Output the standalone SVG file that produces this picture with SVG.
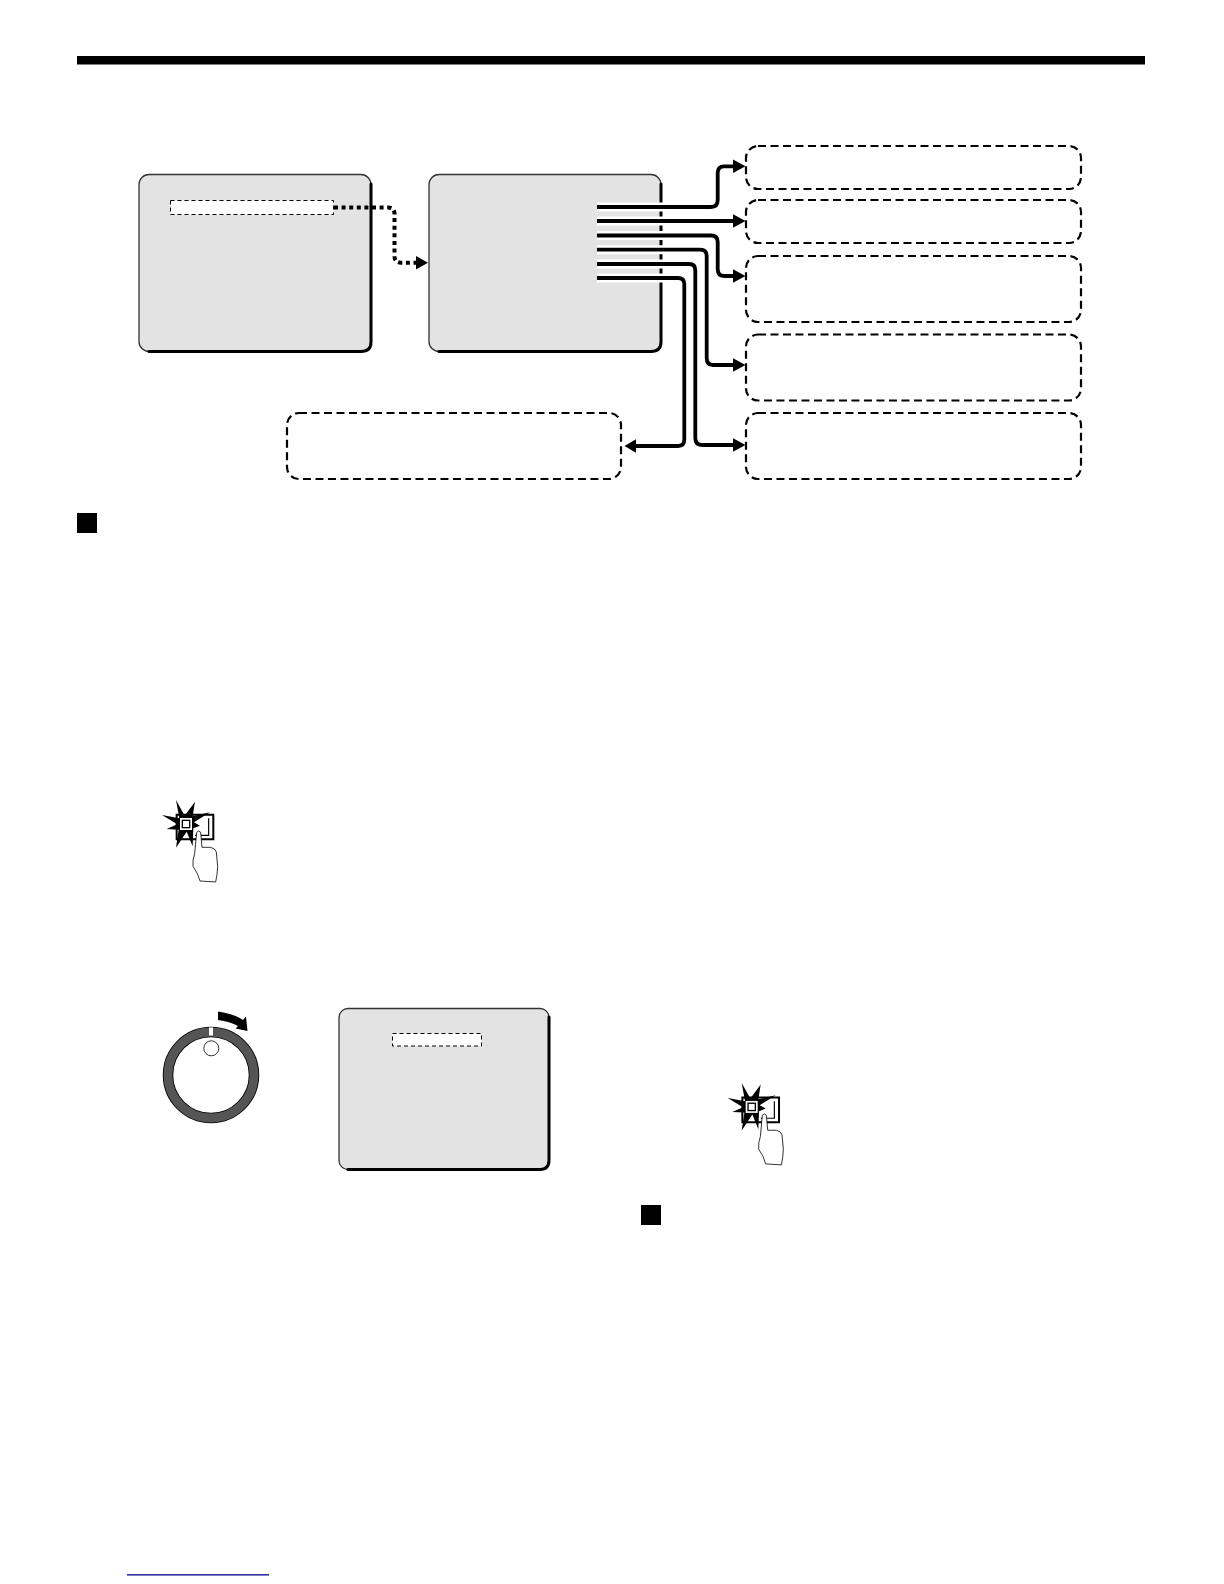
<svg xmlns="http://www.w3.org/2000/svg" xmlns:xlink="http://www.w3.org/1999/xlink" width="1224" height="1584" viewBox="0 0 1224 1584">
<style>
.screen{fill:#e3e3e3;stroke:#333;stroke-width:1.3}
.edge{fill:none;stroke:#000;stroke-width:3;stroke-linecap:round}
.hl{fill:#fff;stroke:#000;stroke-width:1;stroke-dasharray:4 3}
.box{fill:#fff;stroke:#000;stroke-width:2.2;stroke-dasharray:8 4.500}
.halo{fill:none;stroke:#fff;stroke-width:9}
.line{fill:none;stroke:#000;stroke-width:3.800}
.dot{fill:none;stroke:#000;stroke-width:4;stroke-dasharray:4 3.600}
.head{fill:#000}
.sq{fill:#000}
</style>
<defs>
<g id="press">
<path d="M80 89H190V163H80Z" fill="#fff" stroke="#000" stroke-width="6"/>
<path d="M176 100V151H135" fill="none" stroke="#000" stroke-width="3.500"/>
<path d="M78 45L104 92L135 50L128 94L180 82L132 112L150 122L130 130L128 184L110 140L78 188L86 134L50 132L82 118L36 90L88 100Z" fill="#000"/>
<rect x="90" y="99" width="36" height="36" fill="#fff"/>
<rect x="97" y="106" width="22" height="22" fill="#fff" stroke="#000" stroke-width="4"/>
<path d="M129 244Q127 224 134 206L140 142Q146 134 152 142L156 187L182 187Q197 191 199 201L203 244Q202 270 197 291L150 288Q145 266 129 244Z" fill="#fff" stroke="#000" stroke-width="2.400"/>
</g>
</defs>
<rect id="top-bar" x="77" y="56" width="1068" height="8.500" fill="#000"/>
<g id="menu-screen">
<rect class="screen" x="139" y="174.500" width="232" height="177" rx="10"/>
<path class="edge" d="M371 184V342Q371 351.500 361 351.500H149"/>
<rect class="hl" x="170.500" y="200.500" width="163" height="14"/>
</g>
<g id="submenu-screen">
<rect class="screen" x="429" y="174.500" width="232" height="177" rx="10"/>
<path class="edge" d="M661 184V342Q661 351.500 651 351.500H439"/>
</g>
<g id="box-a"><rect class="box" x="746" y="146" width="335" height="43" rx="12"/></g>
<g id="box-b"><rect class="box" x="746" y="200" width="335" height="43" rx="12"/></g>
<g id="box-c"><rect class="box" x="746" y="256" width="335" height="66" rx="12"/></g>
<g id="box-d"><rect class="box" x="746" y="334.500" width="335" height="66" rx="12"/></g>
<g id="box-e"><rect class="box" x="746" y="413" width="335" height="66" rx="12"/></g>
<g id="box-f"><rect class="box" x="287" y="413" width="334" height="66" rx="12"/></g>
<g id="connectors">
<path class="halo" d="M597 207H672"/>
<path class="halo" d="M597 221H672"/>
<path class="halo" d="M597 235.500H672"/>
<path class="halo" d="M597 249.700H672"/>
<path class="halo" d="M597 264H672"/>
<path class="halo" d="M597 278H672"/>
<path class="dot" d="M334 207.500H388Q394.500 207.500 394.500 214V256Q394.500 262.700 401 262.700H417"/>
<polygon class="head" points="428,262.700 416,256 416,269.400"/>
<path class="line" d="M597 207H711Q717.700 207 717.700 200V173Q717.700 166.300 724 166.300H735"/>
<polygon class="head" points="745.500,166.300 733,159.500 733,173.100"/>
<path class="line" d="M597 221H735"/>
<polygon class="head" points="745.500,221 733,214.200 733,227.800"/>
<path class="line" d="M597 235.500H711Q717.700 235.500 717.700 242V269Q717.700 276 724 276H735"/>
<polygon class="head" points="745.500,276 733,269.200 733,282.800"/>
<path class="line" d="M597 249.700H700Q706.700 249.700 706.700 256V358Q706.700 365 713 365H735"/>
<polygon class="head" points="745.500,365 733,358.200 733,371.800"/>
<path class="line" d="M597 264H689Q695.300 264 695.300 270V438Q695.300 445 702 445H735"/>
<polygon class="head" points="745.500,445 733,438.200 733,451.800"/>
<path class="line" d="M597 278H678Q684.300 278 684.300 284V439.500Q684.300 446 678 446H634"/>
<polygon class="head" points="624.500,446 636,439.200 636,452.800"/>
</g>
<rect id="square-1" class="sq" x="77" y="513" width="20" height="20"/>
<rect id="square-2" class="sq" x="641" y="1205" width="20" height="20"/>
<g id="press-icon-1" transform="translate(150 785) scale(.3333)"><use xlink:href="#press" href="#press"/></g>
<g id="press-icon-2" transform="translate(715.700 1067.900) scale(.3333)"><use xlink:href="#press" href="#press"/></g>
<g id="dial">
<circle cx="211" cy="1075" r="43" fill="#fff" stroke="#000" stroke-width="10.500"/>
<circle cx="211" cy="1075" r="43" fill="none" stroke="#555" stroke-width="8.800"/>
<rect x="209" y="1027.500" width="4" height="8" fill="#fff"/>
<circle cx="211.300" cy="1048.300" r="7.500" fill="#fff" stroke="#000" stroke-width=".8"/>
<path d="M218 1011.500Q235 1014 243 1020L246 1016.500L247.500 1031L235.500 1028.500L238 1026Q230 1021.500 218 1020Z" fill="#000"/>
</g>
<g id="result-screen">
<rect class="screen" x="339" y="1008.500" width="210" height="161" rx="9"/>
<path class="edge" d="M549 1017V1160Q549 1169.500 540 1169.500H348"/>
<rect class="hl" x="392.500" y="1033.500" width="89" height="12.500"/>
</g>
<rect id="footer-link" x="127" y="1574.200" width="142" height="1.300" fill="#00008b"/>
</svg>
